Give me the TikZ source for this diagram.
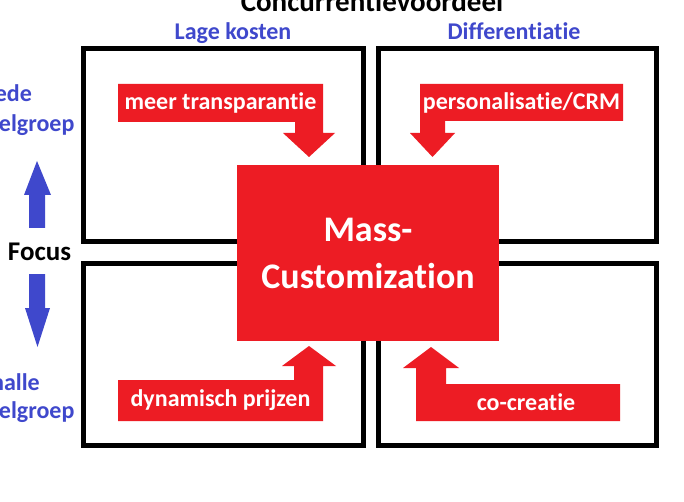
\documentclass[tikz,border=0pt]{standalone}
\usepackage{fontspec}
\setmainfont{Carlito}[Ligatures=NoCommon]
\definecolor{mred}{HTML}{ED1C24}
\definecolor{mblue}{HTML}{3F48CC}
\begin{document}
\begin{tikzpicture}[x=1pt,y=-1pt,
  quad/.style={draw=black,line width=5pt,inner sep=0pt},
  core/.style={fill=mred,inner sep=0pt,text=white,align=center,
    font=\bfseries\fontsize{36}{47}\selectfont},
  bannertext/.style={text=white,inner sep=0pt,font=\bfseries\fontsize{24}{28}\selectfont},
  header/.style={text=mblue,inner sep=0pt,font=\bfseries\fontsize{24}{28}\selectfont},
  sidelabel/.style={text=mblue,inner sep=0pt,anchor=base west,font=\bfseries\fontsize{24}{28}\selectfont},
  redarrow/.style={fill=mred},
  bluearrow/.style={fill=mblue}]
\useasboundingbox (0,0) rectangle (684,502);
\fill[white] (0,0) rectangle (684,502);

% title (cropped at top)
\node[inner sep=0pt,anchor=base,font=\bfseries\fontsize{29}{34}\selectfont] (title) at (372,12) {Concurrentievoordeel};

% column headers
\node[header,anchor=base] (lk) at (233,40) {Lage kosten};
\node[header,anchor=base] (dif) at (514,40) {Differentiatie};

% quadrants
\node[quad,minimum width=280pt,minimum height=193pt] (tl) at (223,145.5) {};
\node[quad,minimum width=278pt,minimum height=193pt] (tr) at (517,145.5) {};
\node[quad,minimum width=280pt,minimum height=182pt] (bl) at (223,354) {};
\node[quad,minimum width=278pt,minimum height=182pt] (br) at (517,354) {};

% side labels (cropped at left)
\node[sidelabel] (brede) at (-27,102) {Brede};
\node[sidelabel] (bdoel) at (-27,132) {doelgroep};
\node[sidelabel] (smalle) at (-27,390) {Smalle};
\node[sidelabel] (sdoel) at (-27,418) {doelgroep};

% focus and blue arrows
\node[inner sep=0pt,anchor=base,font=\bfseries\fontsize{27}{32}\selectfont] (focus) at (39.5,261) {Focus};
\fill[bluearrow] (37,161) -- (51,195) -- (45,195) -- (45,228) -- (29,228) -- (29,195) -- (24,195) -- cycle;
\fill[bluearrow] (29,274) -- (45,274) -- (45,308) -- (50,308) -- (37.5,347) -- (25,308) -- (29,308) -- cycle;

% red banner arrows
\fill[redarrow] (118,84) -- (323,84) -- (323,133) -- (335,133) -- (309,157) -- (283,133) -- (295,133) -- (295,122) -- (118,122) -- cycle;
\fill[redarrow] (420,84) -- (623,84) -- (623,121) -- (445,121) -- (445,133) -- (455,133) -- (432.5,157) -- (410,133) -- (420,133) -- cycle;
\fill[redarrow] (118,421) -- (323,421) -- (323,366) -- (336,366) -- (309,346) -- (282,366) -- (294,366) -- (294,380) -- (118,380) -- cycle;
\fill[redarrow] (416,421) -- (620,421) -- (620,384) -- (446,384) -- (446,368) -- (459,368) -- (431,347) -- (403,368) -- (416,368) -- cycle;

\node[bannertext] (t1) at (220.5,103) {meer transparantie};
\node[bannertext] (t2) at (521.5,102.5) {personalisatie/CRM};
\node[bannertext] (t3) at (220.5,400.5) {dynamisch prijzen};
\node[bannertext] (t4) at (526,402.5) {co-creatie};

% central box
\node[core,minimum width=262pt,minimum height=176pt] (mc) at (368,253) {Mass-\\Customization};
\end{tikzpicture}
\end{document}
